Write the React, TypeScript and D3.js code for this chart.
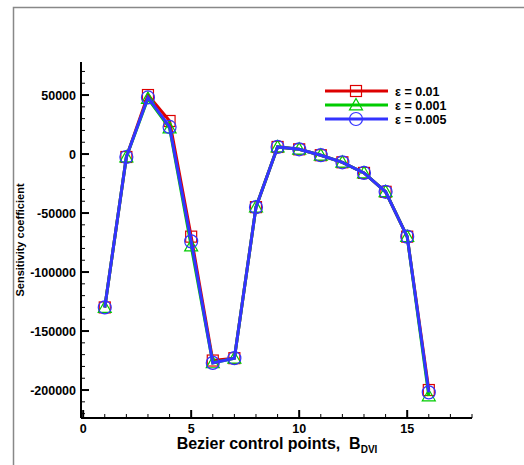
import React, { useEffect, useRef } from 'react';
import * as d3 from 'd3';

// control point index
const points = [1, 2, 3, 4, 5, 6, 7, 8, 9, 10, 11, 12, 13, 14, 15, 16];

// sensitivity values per epsilon
const eps001 = [-130000, -2500, 50000, 28000, -70000, -175000, -173000, -45000, 6000, 4000, -1000, -7000, -16000, -32000, -70000, -200000];
const eps0001 = [-130000, -2500, 47000, 22000, -78000, -177000, -173000, -45000, 6000, 4000, -1000, -7000, -16000, -32000, -70000, -205000];
const eps0005 = [-130000, -2500, 48000, 23000, -74000, -177000, -173000, -45000, 6000, 4000, -1000, -7000, -16000, -32000, -70000, -202000];

const seriesNames = ['ε = 0.01', 'ε = 0.001', 'ε = 0.005'];
const xTicks = [0, 5, 10, 15];
const yTicks = [50000, 0, -50000, -100000, -150000, -200000];

const App = () => {
  const svgRef = useRef<SVGSVGElement>(null);

  useEffect(() => {
    const svg = d3.select(svgRef.current);
    svg.selectAll('*').remove();

    const font = 'Arial, "Liberation Sans", Helvetica, sans-serif';

    // outer frame
    svg.append('rect')
      .attr('x', 13.5).attr('y', 7.5)
      .attr('width', 540).attr('height', 480)
      .attr('fill', 'none').attr('stroke', '#888').attr('stroke-width', 1.5);

    const xScale = d3.scaleLinear().domain([-0.1, 18]).range([81, 472]);
    const yScale = d3.scaleLinear().domain([-223700, 78000]).range([418, 62]);

    const g = svg.append('g');

    // axes lines
    g.append('line')
      .attr('x1', 81).attr('x2', 81).attr('y1', 62).attr('y2', 418)
      .attr('stroke', '#000').attr('stroke-width', 2);
    g.append('line')
      .attr('x1', 81).attr('x2', 472).attr('y1', 418).attr('y2', 418)
      .attr('stroke', '#000').attr('stroke-width', 2);

    // y ticks (inside)
    d3.range(-220000, 78000, 10000).forEach(v => {
      const major = v % 50000 === 0;
      g.append('line')
        .attr('x1', 81).attr('x2', 81 + (major ? 8 : 4))
        .attr('y1', yScale(v)).attr('y2', yScale(v))
        .attr('stroke', '#000').attr('stroke-width', major ? 2 : 1);
    });
    yTicks.forEach(v => {
      g.append('text')
        .attr('x', 76).attr('y', yScale(v) + 4.5)
        .attr('text-anchor', 'end')
        .attr('font-family', font).attr('font-weight', 'bold').attr('font-size', 12.5)
        .text(v);
    });

    // x ticks (inside)
    d3.range(0, 18.01, 1).forEach(v => {
      const major = v % 5 === 0;
      g.append('line')
        .attr('x1', xScale(v)).attr('x2', xScale(v))
        .attr('y1', 418).attr('y2', 418 - (major ? 8 : 4))
        .attr('stroke', '#000').attr('stroke-width', major ? 2 : 1);
    });
    xTicks.forEach(v => {
      g.append('text')
        .attr('x', xScale(v)).attr('y', 433)
        .attr('text-anchor', 'middle')
        .attr('font-family', font).attr('font-weight', 'bold').attr('font-size', 12.5)
        .text(v);
    });

    // axis titles
    const xt = g.append('text')
      .attr('x', 277).attr('y', 449)
      .attr('text-anchor', 'middle')
      .attr('font-family', font).attr('font-weight', 'bold').attr('font-size', 16);
    xt.append('tspan').text('Bezier control points,\u00a0 B');
    xt.append('tspan').attr('font-size', 10).attr('dy', 4).text('DVI');

    g.append('text')
      .attr('transform', 'translate(24, 240) rotate(-90)')
      .attr('text-anchor', 'middle')
      .attr('font-family', font).attr('font-weight', 'bold').attr('font-size', 11)
      .text('Sensitivity coefficient');

    const series = [
      { name: seriesNames[0], values: eps001, color: '#dd0000', marker: 'square' },
      { name: seriesNames[1], values: eps0001, color: '#00cc00', marker: 'triangle' },
      { name: seriesNames[2], values: eps0005, color: '#3333ff', marker: 'circle' },
    ];

    const line = d3.line<number>()
      .x((_, i) => xScale(points[i]))
      .y(d => yScale(d));

    const drawMarker = (sel: any, type: string, cx: number, cy: number, color: string) => {
      if (type === 'square') {
        sel.append('rect')
          .attr('x', cx - 5.5).attr('y', cy - 5.5).attr('width', 11).attr('height', 11)
          .attr('fill', 'none').attr('stroke', color).attr('stroke-width', 1.2);
      } else if (type === 'triangle') {
        const s = 6.5;
        sel.append('path')
          .attr('d', `M${cx},${cy - s} L${cx + s},${cy + s * 0.75} L${cx - s},${cy + s * 0.75} Z`)
          .attr('fill', 'none').attr('stroke', color).attr('stroke-width', 1.2);
      } else {
        sel.append('circle')
          .attr('cx', cx).attr('cy', cy).attr('r', 6.5)
          .attr('fill', 'none').attr('stroke', color).attr('stroke-width', 1.2);
      }
    };

    series.forEach(s => {
      g.append('path')
        .datum(s.values)
        .attr('d', line)
        .attr('fill', 'none')
        .attr('stroke', s.color)
        .attr('stroke-width', 3);
      s.values.forEach((v, i) => drawMarker(g, s.marker, xScale(points[i]), yScale(v), s.color));
    });

    // legend
    series.forEach((s, i) => {
      const ly = 91 + i * 14;
      g.append('line')
        .attr('x1', 325).attr('x2', 388).attr('y1', ly).attr('y2', ly)
        .attr('stroke', s.color).attr('stroke-width', 3);
      drawMarker(g, s.marker, 356, ly, s.color);
      g.append('text')
        .attr('x', 395).attr('y', ly + 4.5)
        .attr('font-family', font).attr('font-weight', 'bold').attr('font-size', 12.5)
        .text(s.name);
    });
  }, []);

  return <svg ref={svgRef} width={524} height={465} style={{ position: 'absolute', left: 0, top: 0 }}></svg>;
};

export default App;
